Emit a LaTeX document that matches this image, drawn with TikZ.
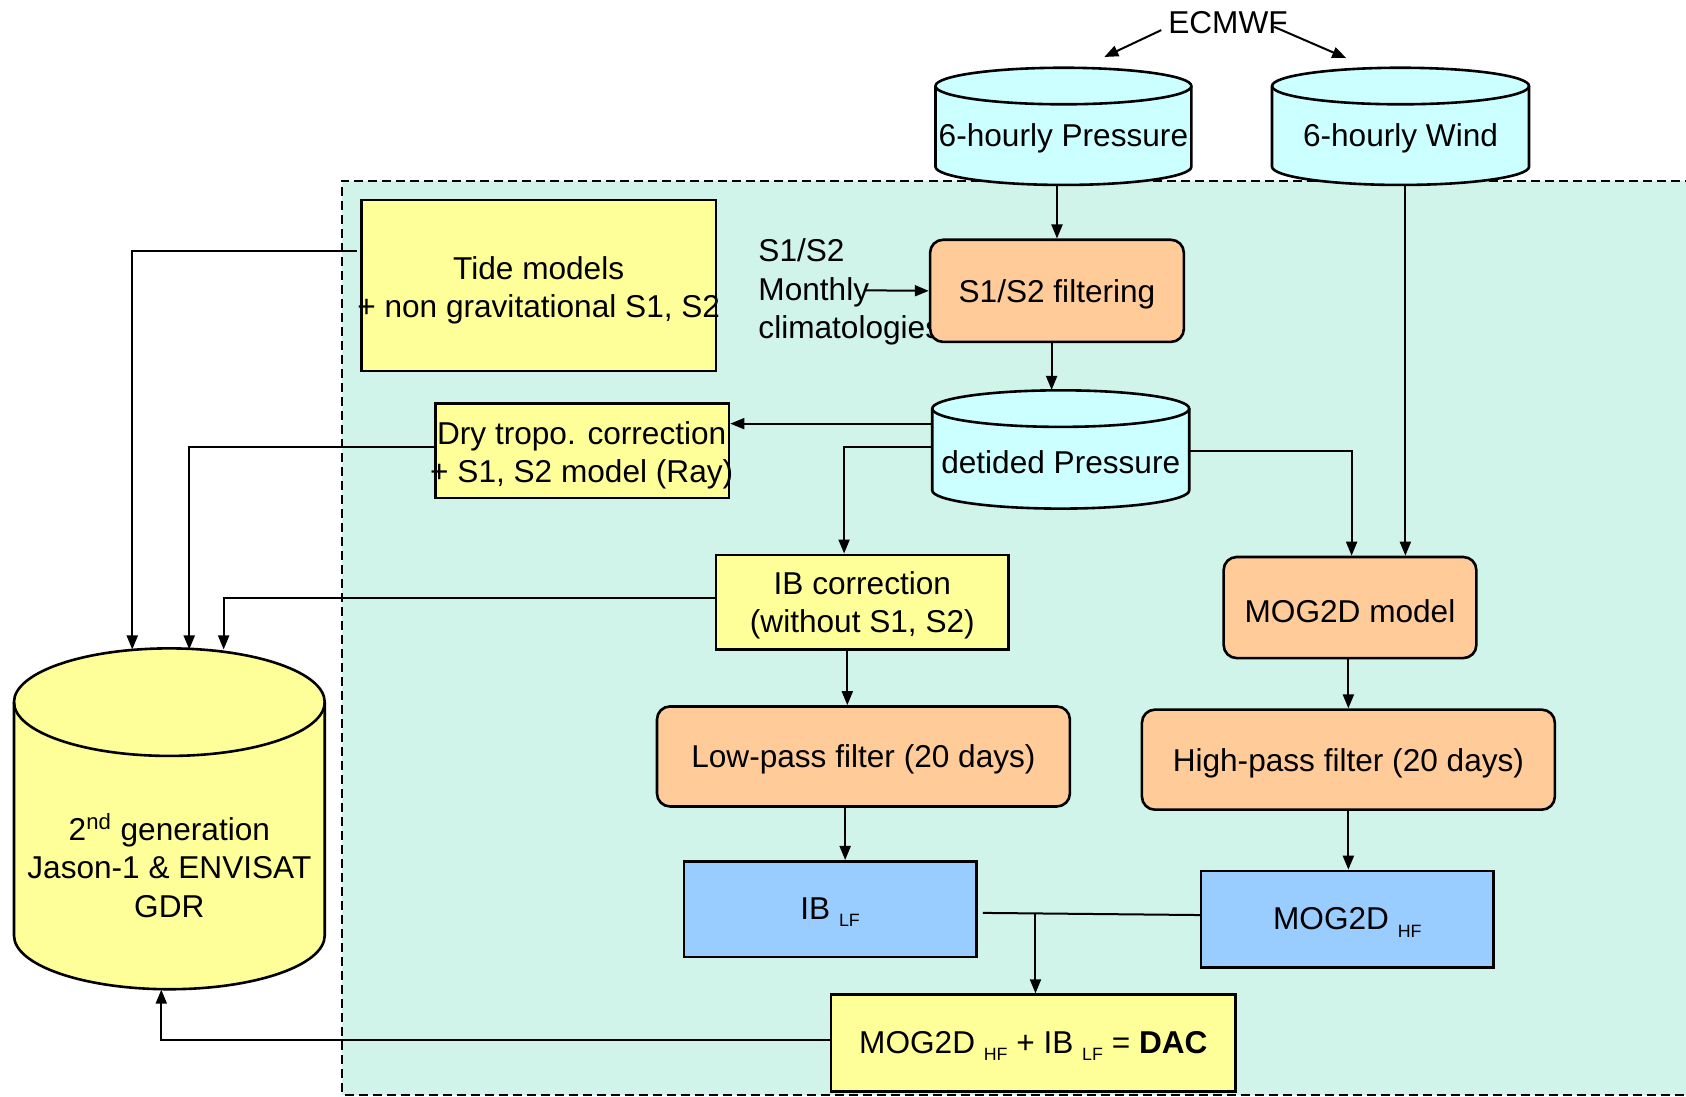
\documentclass[tikz,border=0pt]{standalone}
\usepackage{fontspec}
\setmainfont{Liberation Sans}
\usetikzlibrary{arrows.meta}
\definecolor{cyanf}{RGB}{204,255,255}
\definecolor{yelf}{RGB}{255,255,153}
\definecolor{oraf}{RGB}{255,204,153}
\definecolor{bluf}{RGB}{153,204,255}
\definecolor{bgf}{RGB}{208,244,234}
\newcommand{\fs}{\fontsize{15.8}{19.3}\selectfont}
\newcommand{\sbs}[1]{\raisebox{-3.7pt}{\fontsize{8.9}{10}\selectfont #1}}
\newcommand{\bx}[7]{%
  \pgfmathsetmacro\bw{(#4-#2)*0.5376}%
  \pgfmathsetmacro\bh{(#5-#3)*0.5376}%
  \node[#6, minimum width=\bw pt, minimum height=\bh pt] (#1) at ({(#2+#4)/2},{(#3+#5)/2}) {};
  \node[txt] (#1-t) at (#1.center) {#7};}
\newcommand{\dbcyl}[9]{%
  \pgfmathsetmacro\crx{(#4-#2)/2*0.5376}%
  \pgfmathsetmacro\cry{#6*0.5376}%
  \draw[shp, fill=#7] (#2,#3+#6) -- (#2,#5-#6)
     arc[start angle=180, end angle=360, x radius=\crx pt, y radius=\cry pt]
     -- (#4,#3+#6)
     arc[start angle=0, end angle=180, x radius=\crx pt, y radius=\cry pt] -- cycle;
  \draw[shp] (#2,#3+#6) arc[start angle=180, end angle=360, x radius=\crx pt, y radius=\cry pt];
  \pgfmathsetmacro\bw{(#4-#2)*0.5376}%
  \pgfmathsetmacro\bh{(#5-#3)*0.5376}%
  \node[inner sep=0pt, minimum width=\bw pt, minimum height=\bh pt] (#1) at ({(#2+#4)/2},{(#3+#5)/2}) {};
  \node[txt] (#1-t) at ({(#2+#4)/2},#8) {#9};}
\begin{document}
\begin{tikzpicture}[x=0.5376pt, y=-0.5376pt,
  shp/.style={line width=1.3pt},
  txt/.style={font=\fs, align=center, inner sep=0pt, yshift=-1.6pt},
  sqbox/.style={draw, line width=1.3pt, inner sep=0pt},
  rbox/.style={sqbox, rounded corners=6.5pt, fill=oraf},
  arr/.style={-{Triangle[length=7pt,width=5.5pt]}, line width=1pt},
  ln/.style={line width=1pt}]
\useasboundingbox (0,0) rectangle (1568,1020);
% background region
\path[fill=bgf] (318,168) rectangle (1575,1018);
\draw[line width=1pt, dash pattern=on 4.5pt off 2.5pt] (1575,168) -- (318,168) -- (318,1018) -- (1575,1018);

% ECMWF and source cylinders
\node[txt] (ecmwf) at (1142,18) {ECMWF};
\dbcyl{press}{870}{63}{1108}{172}{17}{cyanf}{126}{6-hourly Pressure}
\dbcyl{wind}{1183}{63}{1422}{172}{17}{cyanf}{126}{6-hourly Wind}
\coordinate (e1) at (1080,28);
\coordinate (e1t) at (1027,53);
\coordinate (e2) at (1185,25);
\coordinate (e2t) at (1252,54);
\draw[arr] (e1) -- (e1t);
\draw[arr] (e2) -- (e2t);

% climatologies text (drawn below box)
\node[txt, anchor=west, align=left] (clim) at (705,268.5) {S1/S2\\Monthly\\climatologies};

% boxes
\bx{tide}{336}{186}{666}{345}{sqbox, fill=yelf}{}
\node[txt] (tide-t) at (501,267) {Tide models\\+ non gravitational S1, S2};
\bx{filt}{865}{223}{1101}{318}{rbox}{S1/S2 filtering}
\dbcyl{det}{867}{363}{1106}{473}{17}{cyanf}{427}{detided Pressure}
\bx{dry}{405}{375}{678}{463}{sqbox, fill=yelf}{}
\node[txt] (dry-t) at (541,420.5) {Dry tropo. correction\\+ S1, S2 model (Ray)};
\bx{ibc}{666}{516}{938}{604}{sqbox, fill=yelf}{IB correction\\(without S1, S2)}
\bx{mog}{1138}{518}{1373}{612}{rbox}{MOG2D model}
\bx{lpf}{611}{657}{995}{750}{rbox}{Low-pass filter (20 days)}
\bx{hpf}{1062}{660}{1446}{753}{rbox}{High-pass filter (20 days)}
\bx{iblf}{636}{801}{908}{890}{sqbox, fill=bluf}{IB \sbs{LF}}
\bx{moghf}{1117}{810}{1389}{900}{sqbox, fill=bluf}{MOG2D \sbs{HF}}
\bx{dac}{773}{925}{1149}{1015}{sqbox, fill=yelf}{MOG2D \sbs{HF} + IB \sbs{LF} = \textbf{DAC}}

% GDR cylinder
\dbcyl{gdr}{13}{603}{302}{920}{50}{yelf}{802}{2\textsuperscript{nd} generation\\Jason-1 \& ENVISAT\\GDR}

% connectors
\draw[arr] (filt.north |- press.south) -- (filt.north);
\draw[arr] (805,270) -- (filt.west);
\draw[arr] (978,0 |- filt.south) -- (978,0 |- det.north);
\draw[arr] (det.west |- 0,394) -- (dry.east |- 0,394);
\draw[arr] (det.west |- 0,416) -| (785,0 |- ibc.north);
\draw[arr] (det.east |- 0,419) -| (1257,0 |- mog.north);
\draw[arr] (1307,0 |- wind.south) -- (1307,0 |- mog.north);
\coordinate (g1) at (123,604);
\coordinate (g2) at (176,604);
\coordinate (g3) at (208,604);
\draw[arr] (332,233) -| (g1);
\draw[arr] (dry.west |- 0,416) -| (g2);
\draw[arr] (ibc.west |- 0,556) -| (g3);
\draw[arr] (788,0 |- ibc.south) -- (788,0 |- lpf.north);
\draw[arr] (786,0 |- lpf.south) -- (786,0 |- iblf.north);
\draw[arr] (1254,0 |- mog.south) -- (1254,0 |- hpf.north);
\draw[arr] (1254,0 |- hpf.south) -- (1254,0 |- moghf.north);
\draw[ln] (914,849) -- (moghf.west |- 0,851);
\coordinate (jn) at (963,850);
\draw[arr] (jn) -- (963,0 |- dac.north);
\draw[arr] (dac.west |- 0,967) -| (150,0 |- gdr.south);
\end{tikzpicture}
\end{document}
